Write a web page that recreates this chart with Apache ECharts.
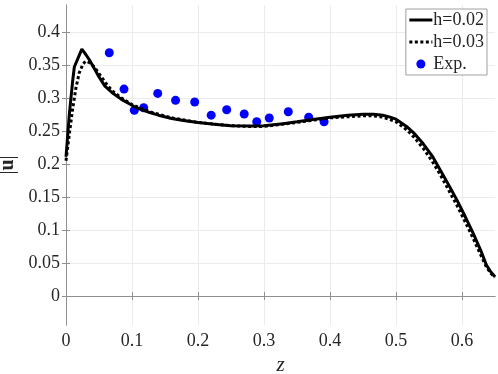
<!DOCTYPE html>
<html>
<head>
<meta charset="utf-8">
<script src="https://cdn.jsdelivr.net/npm/echarts@6/dist/echarts.min.js"></script>
<style>
  html, body { margin: 0; padding: 0; background: #fff; }
  #chart { width: 498px; height: 374px; }
</style>
</head>
<body>
<div id="chart"></div>
<script>
// h=0.02 (solid)
const zH02 = [0, 0.005, 0.01, 0.0126, 0.024, 0.03, 0.036, 0.045, 0.05, 0.059, 0.07, 0.084, 0.1, 0.107, 0.127, 0.14, 0.16, 0.178, 0.2, 0.228, 0.25, 0.279, 0.3, 0.329, 0.35, 0.377, 0.4, 0.427, 0.45, 0.466, 0.48, 0.491, 0.5, 0.516, 0.528, 0.541, 0.555, 0.567, 0.58, 0.592, 0.605, 0.617, 0.628, 0.637, 0.644, 0.65]
const uH02 = [0.211, 0.275, 0.325, 0.347, 0.374, 0.366, 0.357, 0.341, 0.332, 0.318, 0.308, 0.298, 0.289, 0.285, 0.278, 0.274, 0.269, 0.266, 0.263, 0.26, 0.258, 0.2576, 0.258, 0.261, 0.264, 0.268, 0.271, 0.274, 0.2755, 0.2755, 0.274, 0.271, 0.268, 0.257, 0.246, 0.231, 0.212, 0.191, 0.168, 0.146, 0.12, 0.095, 0.07, 0.047, 0.036, 0.029]
// h=0.03 (dotted)
const zH03 = [0, 0.005, 0.01, 0.015, 0.02, 0.026, 0.03, 0.035, 0.043, 0.05, 0.06, 0.07, 0.084, 0.1, 0.127, 0.16, 0.2, 0.25, 0.279, 0.3, 0.35, 0.4, 0.45, 0.466, 0.48, 0.5, 0.516, 0.528, 0.541, 0.555, 0.567, 0.58, 0.592, 0.605, 0.617, 0.628, 0.637, 0.644, 0.65]
const uH03 = [0.205, 0.245, 0.283, 0.315, 0.338, 0.352, 0.356, 0.354, 0.347, 0.337, 0.323, 0.311, 0.3, 0.29, 0.279, 0.27, 0.263, 0.258, 0.257, 0.257, 0.263, 0.27, 0.273, 0.273, 0.271, 0.264, 0.252, 0.24, 0.224, 0.204, 0.184, 0.16, 0.138, 0.112, 0.087, 0.063, 0.044, 0.034, 0.028]
// experiment
const zExp = [0.0656, 0.0879, 0.1035, 0.1177, 0.139, 0.166, 0.195, 0.22, 0.2435, 0.27, 0.289, 0.308, 0.3368, 0.3677, 0.391]
const uExp = [0.3686, 0.3136, 0.2814, 0.2853, 0.307, 0.2965, 0.294, 0.274, 0.2823, 0.2758, 0.2641, 0.2697, 0.2792, 0.2708, 0.2641]

const xTicks = [0, 0.1, 0.2, 0.3, 0.4, 0.5, 0.6]
const yTicks = [0, 0.05, 0.1, 0.15, 0.2, 0.25, 0.3, 0.35, 0.4]

const zip = (xs, ys) => xs.map((x, i) => [x, ys[i]])

const chart = echarts.init(document.getElementById('chart'))

const font = 'Liberation Serif'
const axisGray = '#8f8f8f'
const gridGray = '#ebebeb'
const textColor = '#262626'

const option = {
  animation: false,
  grid: { left: 66, right: 3, top: 5, bottom: 49, containLabel: false, outerBoundsMode: 'none' },
  legend: {
    right: 11,
    top: 9,
    orient: 'vertical',
    itemWidth: 23,
    itemHeight: 9,
    itemGap: 4,
    padding: [2, 3, 2, 2],
    backgroundColor: '#fff',
    borderColor: '#a0a0a0',
    borderWidth: 1,
    textStyle: { fontFamily: font, fontSize: 18, color: textColor, padding: [0, 0, 0, -4] },
    data: [
      { name: 'h=0.02', itemStyle: { opacity: 0 }, lineStyle: { width: 3 } },
      { name: 'h=0.03', itemStyle: { opacity: 0 }, lineStyle: { width: 3 } },
      { name: 'Exp.' }
    ]
  },
  xAxis: [
    {
      type: 'value',
      min: 0,
      max: 0.65,
      name: 'z',
      nameLocation: 'middle',
      nameGap: 24,
      nameTextStyle: { fontFamily: font, fontStyle: 'italic', fontSize: 21, color: textColor },
      axisLine: { lineStyle: { color: axisGray, width: 1 } },
      axisTick: { inside: true, length: 4, customValues: xTicks, lineStyle: { color: axisGray } },
      axisLabel: { fontFamily: font, fontSize: 18, color: textColor, margin: 7, customValues: xTicks },
      splitLine: { show: true, lineStyle: { color: gridGray, width: 1 } }
    },
    {
      type: 'value',
      position: 'top',
      min: 0,
      max: 0.65,
      axisLine: { show: true, lineStyle: { color: axisGray, width: 1 } },
      axisTick: { show: true, inside: true, length: 4, customValues: xTicks, lineStyle: { color: axisGray } },
      axisLabel: { show: false, customValues: xTicks },
      splitLine: { show: false }
    }
  ],
  yAxis: [
    {
      type: 'value',
      min: -0.044,
      max: 0.441,
      name: '|{b|u}|',
      nameLocation: 'middle',
      nameGap: 44,
      nameTextStyle: {
        fontFamily: font, fontSize: 20, color: textColor,
        rich: { b: { fontFamily: font, fontSize: 20, fontWeight: 'bold', color: textColor } }
      },
      axisLine: { show: true, lineStyle: { color: axisGray, width: 1 } },
      axisTick: { show: true, inside: true, length: 4, customValues: yTicks, lineStyle: { color: axisGray } },
      axisLabel: { fontFamily: font, fontSize: 18, color: textColor, margin: 6, customValues: yTicks },
      splitLine: { show: true, lineStyle: { color: gridGray, width: 1 } }
    },
    {
      type: 'value',
      position: 'right',
      min: -0.044,
      max: 0.441,
      axisLine: { show: true, lineStyle: { color: axisGray, width: 1 } },
      axisTick: { show: true, inside: true, length: 4, customValues: yTicks, lineStyle: { color: axisGray } },
      axisLabel: { show: false, customValues: yTicks },
      splitLine: { show: false }
    }
  ],
  series: [
    {
      name: 'h=0.02',
      type: 'line',
      data: zip(zH02, uH02),
      showSymbol: false,
      symbol: 'none',
      color: '#000',
      lineStyle: { color: '#000', width: 3 }
    },
    {
      name: 'h=0.03',
      type: 'line',
      data: zip(zH03, uH03),
      showSymbol: false,
      symbol: 'none',
      color: '#000',
      lineStyle: { color: '#000', width: 3, type: [3, 2.5] }
    },
    {
      name: 'Exp.',
      type: 'scatter',
      data: zip(zExp, uExp),
      symbol: 'circle',
      symbolSize: 9,
      itemStyle: { color: '#0000ff', opacity: 1 }
    }
  ]
}

chart.setOption(option)
</script>
</body>
</html>
